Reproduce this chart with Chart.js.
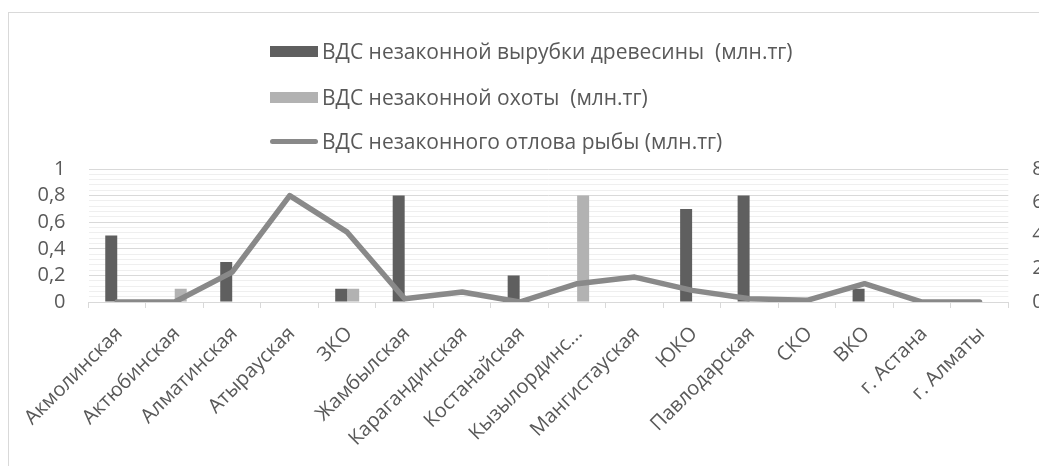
<!DOCTYPE html>
<html><head><meta charset="utf-8">
<script src="https://cdn.jsdelivr.net/npm/chart.js@4"></script>
<style>
html,body{margin:0;padding:0;width:1039px;height:466px;overflow:hidden;background:#fff;}
#frame{position:absolute;left:8px;top:12px;width:1200px;height:600px;border-left:1px solid #d9d9d9;border-top:1px solid #d9d9d9;}
#wrap{position:absolute;left:0;top:0;width:1080px;height:466px;}
#legend{position:absolute;left:0;top:0;font-family:'Open Sans',sans-serif;font-size:21px;color:#595959;}
.item{position:absolute;left:270px;white-space:pre;height:28px;line-height:28px;display:flex;align-items:center;}
.sw{display:inline-block;width:48px;margin-right:4px;}
</style></head>
<body>
<div id="frame"></div>
<div id="wrap"><canvas id="c" width="1080" height="466"></canvas></div>
<div id="legend"></div>
<script>
const categories = ["Акмолинская","Актюбинская","Алматинская","Атырауская","ЗКО","Жамбылская","Карагандинская","Костанайская","Кызылординс...","Мангистауская","ЮКО","Павлодарская","СКО","ВКО","г. Астана","г. Алматы"];
const woodValues = [0.5, 0, 0.3, 0, 0.1, 0.8, 0, 0.2, 0, 0, 0.7, 0.8, 0, 0.1, 0, 0];
const huntValues = [0, 0.1, 0, 0, 0.1, 0, 0, 0, 0.8, 0, 0, 0, 0, 0, 0, 0];
const fishValues = [0, 0, 1.8, 6.4, 4.2, 0.2, 0.6, 0, 1.1, 1.5, 0.7, 0.2, 0.1, 1.1, 0, 0];
const seriesNames = ["ВДС незаконной вырубки древесины  (млн.тг)","ВДС незаконной охоты  (млн.тг)","ВДС незаконного отлова рыбы (млн.тг)"];
const leftTicks = [0, 0.2, 0.4, 0.6, 0.8, 1];
const rightTicks = [0, 2, 4, 6, 8];

const TXT = '#595959';
const FONT = {family:"'Open Sans', sans-serif", size:20};
const fmt = v => String(Math.round(v*10)/10).replace('.', ',');

const chart = new Chart(document.getElementById('c'), {
  type: 'bar',
  data: {
    labels: categories,
    datasets: [
      {type:'line', label: seriesNames[2], data: fishValues, yAxisID:'y1', borderColor:'#898989', backgroundColor:'#898989', borderWidth:5.5, pointRadius:0, borderCapStyle:'round', borderJoinStyle:'round', tension:0, order:0},
      {label: seriesNames[0], data: woodValues, yAxisID:'y', backgroundColor:'#5f5f5f', categoryPercentage:0.417, barPercentage:1, order:1},
      {label: seriesNames[1], data: huntValues, yAxisID:'y', backgroundColor:'#b2b2b2', categoryPercentage:0.417, barPercentage:1, order:2}
    ]
  },
  options: {
    responsive:false, animation:false,
    layout:{padding:{top:169,left:0,right:0,bottom:0}},
    plugins:{legend:{display:false}, tooltip:{enabled:false}},
    scales:{
      x:{
        type:'category', offset:true,
        grid:{display:true, drawOnChartArea:false, drawTicks:true, tickLength:6, color:'#d9d9d9', offset:true},
        border:{display:true, color:'#d9d9d9'},
        ticks:{autoSkip:false, minRotation:45, maxRotation:45, padding:14, labelOffset:2, color:TXT, font:FONT},
        afterFit(s){ s.height = 164; s.paddingLeft = 0; s.paddingRight = 0; }
      },
      yMinor:{
        position:'left', min:0, max:1,
        ticks:{display:false, stepSize:0.04},
        grid:{drawTicks:false, color:(ctx)=>{const v=ctx.tick.value*5; return Math.abs(v-Math.round(v))<1e-6 ? 'rgba(0,0,0,0)' : '#efefef';}},
        border:{display:false},
        afterFit(s){ s.width = 0; }
      },
      y:{
        position:'left', min:0, max:1,
        afterBuildTicks(s){ s.ticks = leftTicks.map(v=>({value:v})); },
        ticks:{autoSkip:false, padding:23, color:TXT, font:FONT, callback:(v)=>fmt(v)},
        grid:{drawTicks:false, color:'#d9d9d9'},
        border:{display:false},
        afterFit(s){ s.width = 88.5; s.paddingTop=0; s.paddingBottom=0; }
      },
      y1:{
        position:'right', min:0, max:8,
        afterBuildTicks(s){ s.ticks = rightTicks.map(v=>({value:v})); },
        ticks:{autoSkip:false, padding:24, color:TXT, font:FONT, callback:(v)=>fmt(v)},
        grid:{display:false, drawTicks:false},
        border:{display:false},
        afterFit(s){ s.width = 1080 - 1008.3; s.paddingTop=0; s.paddingBottom=0; }
      }
    }
  }
});

// HTML legend built from the chart's datasets
const legendOrder = [1, 2, 0];
const legendY = [51, 97, 141];
const lg = document.getElementById('legend');
legendOrder.forEach((di, i) => {
  const ds = chart.data.datasets[di];
  const it = document.createElement('div');
  it.className = 'item';
  it.style.top = (legendY[i] - 14) + 'px';
  const sw = document.createElement('span');
  sw.className = 'sw';
  if (ds.type === 'line') {
    sw.style.height = '5px'; sw.style.borderRadius = '3px'; sw.style.background = ds.borderColor;
  } else {
    sw.style.height = '11px'; sw.style.background = ds.backgroundColor;
  }
  it.appendChild(sw);
  it.appendChild(document.createTextNode(ds.label));
  lg.appendChild(it);
});
</script>
</body></html>
